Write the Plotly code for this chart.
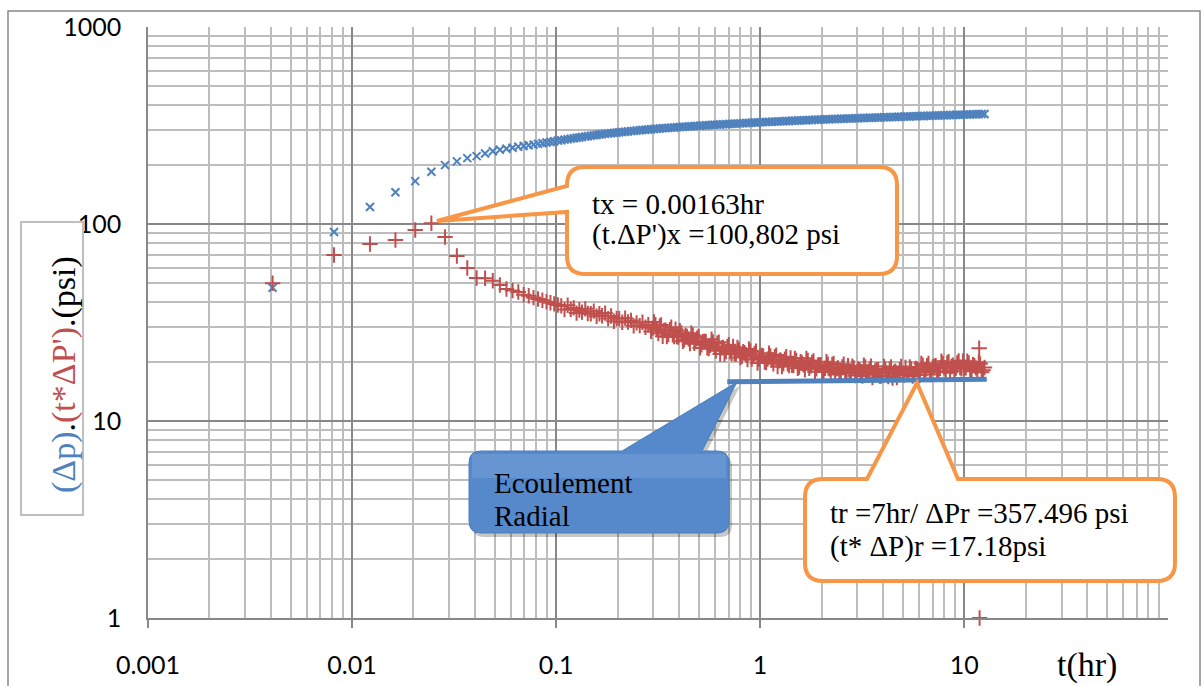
import plotly.graph_objects as go

# ---------------- data ----------------
t_early = [0.00408, 0.00816, 0.01224, 0.01632, 0.0204, 0.02448, 0.02856, 0.03264, 0.03672, 0.0408,
           0.04488, 0.04896, 0.05304, 0.05712, 0.0612, 0.06528, 0.06936, 0.07344, 0.07752, 0.0816,
           0.08568, 0.08976, 0.09384, 0.09792, 0.102]
t_late = [0.106, 0.110, 0.114, 0.118, 0.122, 0.126, 0.130, 0.134, 0.139, 0.143,
          0.148, 0.153, 0.158, 0.163, 0.168, 0.174, 0.180, 0.186, 0.192, 0.198,
          0.204, 0.211, 0.218, 0.225, 0.233, 0.240, 0.248, 0.257, 0.265, 0.274,
          0.283, 0.292, 0.302, 0.312, 0.322, 0.333, 0.344, 0.355, 0.367, 0.379,
          0.391, 0.404, 0.418, 0.431, 0.446, 0.460, 0.476, 0.491, 0.508, 0.524,
          0.542, 0.560, 0.578, 0.597, 0.617, 0.637, 0.658, 0.680, 0.702, 0.725,
          0.749, 0.774, 0.800, 0.826, 0.853, 0.881, 0.910, 0.940, 0.971, 1.003,
          1.036, 1.070, 1.105, 1.142, 1.180, 1.218, 1.258, 1.300, 1.343, 1.387,
          1.433, 1.480, 1.529, 1.579, 1.631, 1.685, 1.740, 1.798, 1.857, 1.918,
          1.981, 2.047, 2.114, 2.184, 2.256, 2.330, 2.407, 2.486, 2.568, 2.653,
          2.740, 2.831, 2.924, 3.020, 3.120, 3.223, 3.329, 3.439, 3.552, 3.669,
          3.790, 3.915, 4.044, 4.177, 4.315, 4.457, 4.604, 4.756, 4.913, 5.075,
          5.242, 5.415, 5.593, 5.778, 5.968, 6.165, 6.368, 6.578, 6.795, 7.019,
          7.250, 7.489, 7.736, 7.991, 8.254, 8.526, 8.807, 9.098, 9.398, 9.708,
          10.03, 10.36, 10.70, 11.05, 11.42, 11.79, 12.18, 12.58]
# extra samples of the derivative between the ones above (dense part of the band)
t_fill = [0.297, 0.307, 0.317, 0.327, 0.338, 0.349, 0.361, 0.373, 0.385, 0.397,
          0.411, 0.424, 0.438, 0.453, 0.468, 0.483, 0.499, 0.516, 0.533, 0.551,
          0.569, 0.587, 0.607, 0.627, 0.647, 0.669, 0.691, 0.713, 0.737, 0.761,
          0.787, 0.813, 0.839, 0.867, 0.895, 0.925, 0.955, 0.987, 1.019, 1.053,
          1.087, 1.123, 1.161, 1.199, 1.238, 1.279, 1.321, 1.365, 1.410, 1.456,
          1.504, 1.554, 1.605, 1.658, 1.712, 1.769, 1.827, 1.887, 1.949, 2.014,
          2.080, 2.149, 2.220, 2.293, 2.368, 2.446, 2.527, 2.610, 2.696, 2.785,
          2.877, 2.972, 3.070, 3.171, 3.276, 3.384, 3.495, 3.610, 3.729, 3.852,
          3.979, 4.110, 4.246, 4.386, 4.530, 4.680, 4.834, 4.994, 5.158, 5.328,
          5.504, 5.685, 5.873, 6.066, 6.266, 6.473, 6.686, 6.907, 7.134, 7.369,
          7.612, 7.863, 8.122, 8.390, 8.666, 8.952, 9.247, 9.552, 9.867, 10.19,
          10.53, 10.87, 11.23, 11.60, 11.98, 12.38]

dp_early = [47.5, 91.0, 122, 145, 165, 184, 199, 208, 216, 221,
            228, 234, 238, 241, 244, 247, 249, 251, 253, 255,
            257, 259, 261, 263, 265]
dp_late = [266, 268, 269.5, 271, 272.5, 274, 275, 276.5, 278, 279,
           280.5, 282, 283, 284.5, 285.5, 287, 288, 289, 290, 291,
           292, 293, 294, 295, 296, 297, 298, 299, 300, 301,
           302, 302.8, 303.6, 304.4, 305.2, 306, 306.8, 307.6, 308.4, 309.2,
           310, 310.7, 311.4, 312.1, 312.8, 313.5, 314.2, 314.9, 315.6, 316.3,
           317, 317.6, 318.2, 318.8, 319.4, 320, 320.6, 321.2, 321.8, 322.4,
           323, 323.6, 324.2, 324.8, 325.4, 326, 326.6, 327.2, 327.8, 328.4,
           329, 329.5, 330, 330.5, 331, 331.5, 332, 332.5, 333, 333.5,
           334, 334.5, 335, 335.5, 336, 336.5, 337, 337.5, 338, 338.5,
           339, 339.5, 340, 340.4, 340.8, 341.2, 341.6, 342, 342.4, 342.8,
           343.2, 343.6, 344, 344.4, 344.8, 345.2, 345.6, 346, 346.4, 346.8,
           347.2, 347.6, 348, 348.4, 348.8, 349.2, 349.6, 350, 350.4, 350.8,
           351.2, 351.6, 352, 352.4, 352.8, 353.2, 353.6, 354, 354.4, 354.8,
           355.2, 355.6, 356, 356.4, 356.8, 357.2, 357.6, 358, 358.4, 358.8,
           359.2, 359.6, 360, 360.4, 360.8, 361.2, 361.6, 362]

tdp_early = [50.0, 69.6, 79.1, 82.9, 93.3, 100.8, 85.9, 68.8, 59.8, 53.2,
             53.0, 51.5, 49.0, 46.8, 46.0, 45.2, 43.8, 43.2, 42.3, 41.6,
             41.0, 40.3, 39.8, 39.3, 38.8]
tdp_late = [38.4, 36.8, 38.7, 36.9, 37.5, 35.3, 36.6, 35.7, 37.1, 35.1,
            35.0, 36.1, 34.0, 35.0, 34.2, 35.3, 33.1, 34.1, 32.1, 33.2,
            33.1, 31.7, 33.3, 31.8, 32.4, 30.4, 31.5, 30.5, 31.7, 29.9,
            30.8, 28.5, 31.8, 29.1, 30.3, 26.9, 28.9, 27.5, 29.9, 26.8,
            26.8, 28.7, 25.4, 27.2, 26.1, 27.9, 24.8, 26.3, 23.5, 25.3,
            25.3, 23.3, 26.0, 23.8, 24.8, 21.9, 23.6, 22.5, 24.4, 22.0,
            22.0, 23.6, 21.0, 22.5, 21.7, 23.2, 20.6, 22.0, 19.7, 21.3,
            21.4, 19.8, 22.1, 20.4, 21.2, 18.9, 20.4, 19.5, 21.2, 19.1,
            19.2, 20.8, 18.5, 20.0, 19.3, 20.8, 18.5, 19.8, 17.8, 19.2,
            19.3, 17.9, 20.0, 18.4, 19.3, 17.2, 18.6, 17.8, 19.4, 17.5,
            17.7, 19.0, 17.0, 18.4, 17.8, 19.2, 17.2, 18.4, 16.6, 18.0,
            18.2, 16.9, 18.9, 17.5, 18.4, 16.5, 17.9, 17.2, 18.9, 17.1,
            17.4, 18.8, 16.9, 18.5, 18.0, 19.6, 17.7, 19.1, 17.2, 18.8,
            19.1, 17.8, 20.1, 18.6, 19.7, 17.6, 19.2, 18.5, 20.2, 18.4,
            18.6, 20.1, 17.9, 19.3, 18.6, 19.9, 17.7, 18.7]
tdp_fill = [29.6, 30.8, 27.8, 30.7, 28.8, 26.8, 29.1, 27.4, 29.2, 26.7,
            28.0, 25.8, 26.9, 24.7, 27.3, 25.4, 26.9, 24.4, 25.4, 23.5,
            24.2, 25.2, 22.7, 25.1, 23.5, 21.9, 23.8, 22.5, 23.9, 21.9,
            23.1, 21.3, 22.2, 20.5, 22.7, 21.3, 22.6, 20.6, 21.5, 19.9,
            20.6, 21.4, 19.5, 21.6, 20.2, 18.9, 20.6, 19.5, 20.9, 19.2,
            20.3, 18.8, 19.7, 18.2, 20.3, 19.0, 20.2, 18.4, 19.3, 17.9,
            18.5, 19.4, 17.7, 19.6, 18.4, 17.3, 18.8, 17.9, 19.1, 17.7,
            18.6, 17.4, 18.2, 16.9, 18.8, 17.7, 19.0, 17.3, 18.2, 16.9,
            17.6, 18.4, 16.8, 18.8, 17.7, 16.6, 18.2, 17.4, 18.7, 17.4,
            18.4, 17.3, 18.3, 17.1, 19.2, 18.2, 19.6, 17.9, 19.0, 17.8,
            18.5, 19.6, 17.9, 20.0, 18.9, 17.9, 19.7, 18.7, 20.2, 18.6,
            19.7, 18.2, 19.1, 17.7, 19.5, 18.1]
tdp_extra_t = [11.85, 11.90]
tdp_extra_v = [23.4, 1.0]

radial_t = [0.69, 12.9]
radial_v = [15.8, 16.3]

x_tick_vals = [0.001, 0.01, 0.1, 1, 10]
x_tick_text = ["0.001", "0.01", "0.1", "1", "10"]
y_tick_vals = [1, 10, 100, 1000]
y_tick_text = ["1", "10", "100", "1000"]

# ---------------- figure ----------------
W, H = 1203, 686
ML, MR, MT, MB = 148, 35, 27, 68
PW, PH = W - ML - MR, H - MT - MB


def px(x):
    return (x - ML) / PW


def py(y):
    return (H - MB - y) / PH


def P(x, y):
    return f"{px(x):.5f},{py(y):.5f}"


BLUE = "#4F81BD"
RED = "#C0504D"
ORANGE = "#F79646"
SERIF = "Liberation Serif"

fig = go.Figure()
fig.add_trace(go.Scatter(
    x=t_early + t_late, y=dp_early + dp_late, mode="markers",
    marker=dict(symbol="x-thin", size=8, line=dict(width=2, color=BLUE), color=BLUE),
    name="Δp"))
fig.add_trace(go.Scatter(
    x=t_early + t_late + t_fill + tdp_extra_t, y=tdp_early + tdp_late + tdp_fill + tdp_extra_v,
    mode="markers",
    marker=dict(symbol="cross-thin", size=11, line=dict(width=2, color=RED), color=RED),
    cliponaxis=False, name="t*ΔP'"))
fig.add_trace(go.Scatter(
    x=radial_t, y=radial_v, mode="lines",
    line=dict(color=BLUE, width=5), name="radial"))

minor_x = [m * 10.0 ** e for e in range(-3, 2) for m in range(2, 10)]
minor_y = [m * 10.0 ** e for e in range(0, 3) for m in range(2, 10)]

fig.update_xaxes(
    type="log", range=[-3, 1.999], tickmode="array", tickvals=x_tick_vals, ticktext=x_tick_text,
    ticks="outside", ticklen=8, tickcolor="#888888", tickwidth=1.5, automargin=False,
    showgrid=True, gridcolor="#888888", gridwidth=1.5,
    showline=True, linecolor="#888888", linewidth=1.5, zeroline=False,
    tickfont=dict(family="Lato", size=25, color="black"), ticklabelstandoff=16,
    minor=dict(tickmode="array", tickvals=minor_x, showgrid=True, gridcolor="#BDBDBD", gridwidth=1.5, ticks=""))
fig.update_yaxes(
    type="log", range=[0, 3], tickmode="array", tickvals=y_tick_vals, ticktext=y_tick_text,
    ticks="", showgrid=True, gridcolor="#888888", gridwidth=1.5, automargin=False,
    showline=True, linecolor="#888888", linewidth=1.5, zeroline=False,
    tickfont=dict(family="Lato", size=25, color="black"), ticklabelstandoff=20,
    minor=dict(tickmode="array", tickvals=minor_y, showgrid=True, gridcolor="#BDBDBD", gridwidth=1.5, ticks=""))

shapes = []
# outer chart border
shapes.append(dict(type="rect", xref="paper", yref="paper", x0=px(8), x1=px(1200), y0=py(11), y1=py(700),
                   line=dict(color="#888888", width=1.5), fillcolor="rgba(0,0,0,0)", layer="below"))
# y title box
shapes.append(dict(type="rect", xref="paper", yref="paper", x0=px(21), x1=px(83), y0=py(222), y1=py(515),
                   line=dict(color="#BFBFBF", width=2), fillcolor="white"))

# top callout
r = 18
x0, x1, y0, y1 = 567, 897, 167, 274
path = (f"M{P(x0 + r, y0)} L{P(x1 - r, y0)} Q{P(x1, y0)} {P(x1, y0 + r)} L{P(x1, y1 - r)} "
        f"Q{P(x1, y1)} {P(x1 - r, y1)} L{P(x0 + r, y1)} Q{P(x0, y1)} {P(x0, y1 - r)} "
        f"L{P(x0, 212)} L{P(437, 221)} L{P(x0, 186)} L{P(x0, y0 + r)} Q{P(x0, y0)} {P(x0 + r, y0)} Z")
shapes.append(dict(type="path", xref="paper", yref="paper", path=path,
                   line=dict(color=ORANGE, width=4), fillcolor="white", layer="above"))

# bottom-right callout
x0, x1, y0, y1 = 805, 1175, 479, 581
path = (f"M{P(x0 + r, y0)} L{P(867, y0)} L{P(917, 383)} L{P(958, y0)} L{P(x1 - r, y0)} "
        f"Q{P(x1, y0)} {P(x1, y0 + r)} L{P(x1, y1 - r)} Q{P(x1, y1)} {P(x1 - r, y1)} "
        f"L{P(x0 + r, y1)} Q{P(x0, y1)} {P(x0, y1 - r)} L{P(x0, y0 + r)} Q{P(x0, y0)} {P(x0 + r, y0)} Z")
shapes.append(dict(type="path", xref="paper", yref="paper", path=path,
                   line=dict(color=ORANGE, width=4), fillcolor="white", layer="above"))


def blue_callout(dx, dy):
    rr = 12
    a0, a1, b0, b1 = 469 + dx, 729 + dx, 451 + dy, 533 + dy
    return (f"M{P(a0 + rr, b0)} L{P(622 + dx, b0)} L{P(737 + dx, 382 + dy)} L{P(702 + dx, b0)} "
            f"L{P(a1 - rr, b0)} Q{P(a1, b0)} {P(a1, b0 + rr)} L{P(a1, b1 - rr)} Q{P(a1, b1)} {P(a1 - rr, b1)} "
            f"L{P(a0 + rr, b1)} Q{P(a0, b1)} {P(a0, b1 - rr)} L{P(a0, b0 + rr)} Q{P(a0, b0)} {P(a0 + rr, b0)} Z")


shapes.append(dict(type="path", xref="paper", yref="paper", path=blue_callout(3, 4),
                   line=dict(width=0), fillcolor="rgba(0,0,0,0.22)", layer="above"))
shapes.append(dict(type="path", xref="paper", yref="paper", path=blue_callout(0, 0),
                   line=dict(color="#4A7EBB", width=1), fillcolor="#5689CC", layer="above"))
# lighter upper part of the blue box (gradient look)
shapes.append(dict(type="rect", xref="paper", yref="paper", x0=px(472), x1=px(726), y0=py(454), y1=py(478),
                   line=dict(width=0), fillcolor="rgba(255,255,255,0.10)", layer="above"))

fig.update_layout(shapes=shapes)

ann = []


def txt(x, y, s, size=29, color="black", xa="left", angle=0):
    ann.append(dict(x=px(x), y=py(y), xref="paper", yref="paper", text=s, showarrow=False,
                    xanchor=xa, yanchor="middle", textangle=angle,
                    font=dict(family=SERIF, size=size, color=color)))


txt(590, 204, "tx = 0.00163hr")
txt(590, 234, "(t.ΔP')x =100,802 psi")
txt(828, 513, "tr =7hr/ ΔPr =357.496 psi")
txt(828, 546, "(t* ΔP)r =17.18psi")
txt(492, 483, "Ecoulement")
txt(492, 516, "Radial")
txt(1087, 665, "t(hr)", size=34, xa="center")
txt(64, 375, f'<span style="color:{BLUE}">(Δp)</span>.<span style="color:{RED}">(t*ΔP\')</span>.(psi)',
    size=34, xa="center", angle=-90)

fig.update_layout(
    width=W, height=H, autosize=False,
    margin=dict(l=ML, r=MR, t=MT, b=MB, pad=0, autoexpand=False),
    paper_bgcolor="white", plot_bgcolor="white",
    showlegend=False, annotations=ann)

fig.write_html("out.html", config={"displayModeBar": False},
               post_script="document.body.style.margin='0';document.body.style.padding='0';")
